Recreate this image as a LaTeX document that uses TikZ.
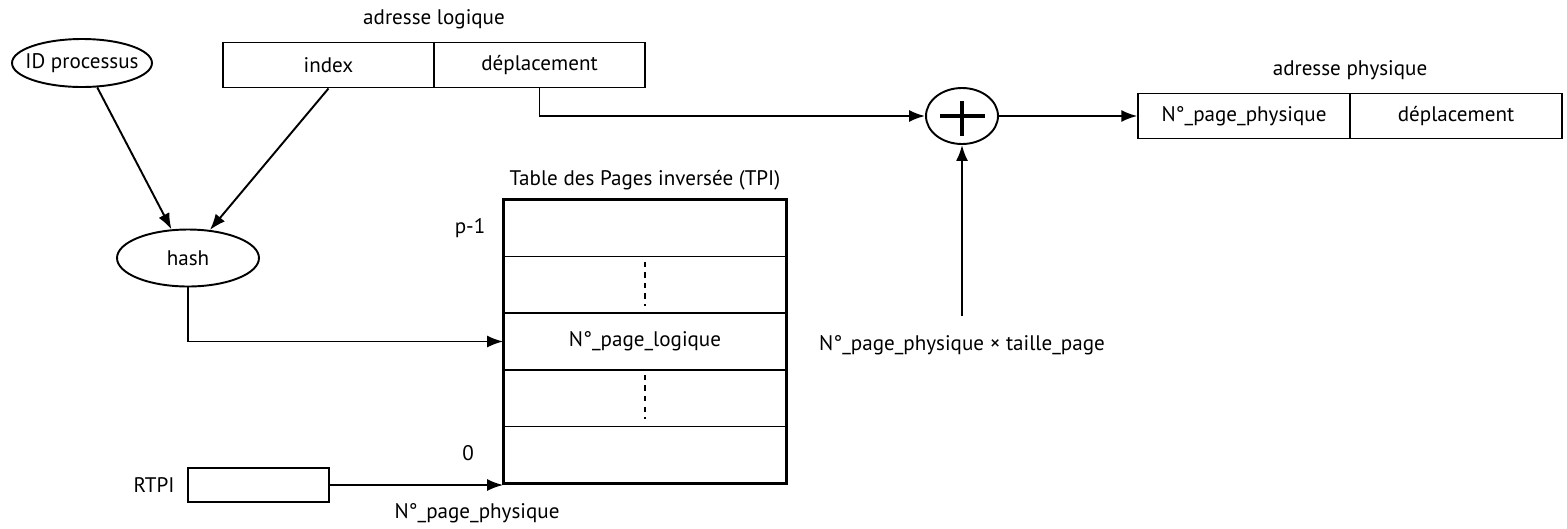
\documentclass[tikz,border=0pt]{standalone}
\usepackage{fontspec}
\setmainfont{PT Sans}
\usepackage{tikz}
\usetikzlibrary{arrows.meta,shapes.geometric,calc}

\tikzset{
  cellbox/.style={draw,rectangle,line width=1.1pt,minimum width=4.23cm,minimum height=0.9cm,inner sep=0pt},
  rowbox/.style={draw,rectangle,line width=1pt,minimum width=5.64cm,minimum height=1.132cm,inner sep=0pt},
  ovalbox/.style={draw,ellipse,line width=1.1pt,inner sep=0pt},
  arr/.style={line width=1.1pt,-{Latex[length=3.2mm,width=2.4mm]}},
  lbl/.style={inner sep=1pt}
}

\begin{document}
\begin{tikzpicture}[x=0.02cm,y=-0.02cm,font=\fontsize{12}{14}\selectfont]
\useasboundingbox (0,0) rectangle (1567,528);
% adresse logique
\node[lbl] (titlelog) at (434,19) {adresse logique};
\node[cellbox] (idx) at (328.5,65) {index};
\node[cellbox] (dep) at (539.5,65) {déplacement};
% entrees du hash
\node[ovalbox,inner xsep=-5pt,minimum width=2.8cm,minimum height=0.96cm] (idp) at (82,63) {ID processus};
\node[ovalbox,minimum width=2.84cm,minimum height=1.14cm] (hash) at (188,258) {hash};
\draw[arr] (idp.-58) -- (hash.120);
\draw[arr] (idx.south) -- (hash.52);
% table des pages inversee
\node[lbl] (titletpi) at (645,180) {Table des Pages inversée (TPI)};
\foreach \i in {1,...,5}
  \node[rowbox] (r\i) at (645,{200+56.6*(\i-0.5)}) {};
\node at (r3) {N°\_page\_logique};
\draw[line width=1.5pt] (r1.north west) rectangle (r5.south east);
\foreach \i in {2,4}
  \draw[dashed,line width=1pt] ([yshift=-0.12cm]r\i.north) -- ([yshift=0.16cm]r\i.south);
\node[lbl] (pmax) at (470,228) {p-1};
\node[lbl] (pzero) at (468,453) {0};
\draw[arr] (hash.south) |- (r3.west);
% RTPI
\node[draw,rectangle,line width=1.1pt,minimum width=2.82cm,minimum height=0.68cm,inner sep=0pt] (rtpi) at (258.5,485) {};
\node[lbl] (rtpilbl) at (154,485) {RTPI};
\draw[arr] (rtpi.east) -- (rtpi.east -| r5.west);
\node[lbl] (nppbas) at (477,513) {N°\_page\_physique};
% additionneur
\node[ovalbox,minimum width=1.44cm,minimum height=1.12cm] (plus) at (962,116) {};
\draw[line width=1.8pt] ([xshift=-0.44cm]plus.center) -- ([xshift=0.46cm]plus.center);
\draw[line width=1.8pt] ([yshift=0.3cm]plus.center) -- ([yshift=-0.4cm]plus.center);
\draw[arr] (dep.south) |- (plus.west);
\node[lbl,inner sep=4pt] (offs) at (962,345) {N°\_page\_physique × taille\_page};
\draw[arr] ($(offs.north)+(0,-12)$) -- (plus.south);
% adresse physique
\node[lbl] (titlephys) at (1350,70) {adresse physique};
\node[cellbox] (npp) at (1244,116) {N°\_page\_physique};
\node[cellbox] (dph) at (1456,116) {déplacement};
\draw[arr] (plus.east) -- (npp.west);
\end{tikzpicture}
\end{document}
